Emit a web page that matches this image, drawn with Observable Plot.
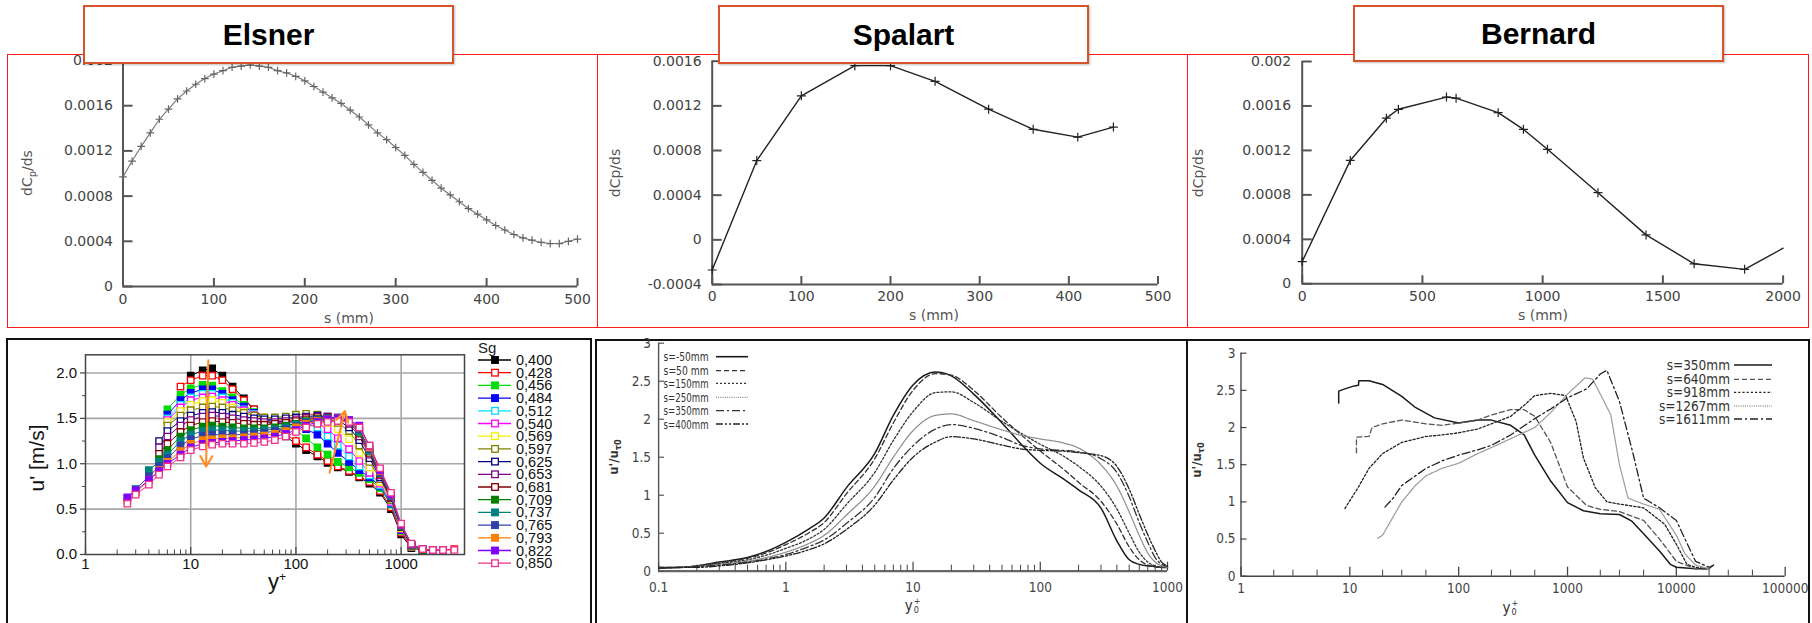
<!DOCTYPE html>
<html><head><meta charset="utf-8">
<script src="https://cdn.jsdelivr.net/npm/d3@7"></script>
<script src="https://cdn.jsdelivr.net/npm/@observablehq/plot@0.6"></script>
<style>
html,body{margin:0;padding:0;background:#fff;}
#root{position:relative;width:1812px;height:623px;overflow:hidden;background:#fff;font-family:"Liberation Sans",Arial,sans-serif;}
.box{position:absolute;box-sizing:border-box;}
.title{position:absolute;box-sizing:border-box;background:#fff;border:2.5px solid #d6532c;display:flex;align-items:center;justify-content:center;font-weight:bold;font-size:30px;color:#000;z-index:10;box-shadow:1px 1px 2px rgba(0,0,0,0.25);}
.lbl{position:absolute;white-space:nowrap;transform:translate(-50%,-50%);line-height:1;}
.rot{transform:translate(-50%,-50%) rotate(-90deg);}
.panel{position:absolute;}
.ss{display:inline-flex;flex-direction:column;font-size:0.6em;line-height:0.95;vertical-align:middle;margin-left:1px;}
</style></head>
<body><div id="root"></div>
<script>
// ================= DATA =================
// Top: dCp/ds vs s
const elsnerS = [0,10,20,30,40,50,60,70,80,90,100,110,120,130,140,150,160,170,180,190,200,210,220,230,240,250,260,270,280,290,300,310,320,330,340,350,360,370,380,390,400,410,420,430,440,450,460,470,480,490,500];
const elsnerDCp = [0.00097,0.00111,0.00124,0.00136,0.00148,0.00157,0.00166,0.00173,0.00179,0.00184,0.00188,0.00191,0.00194,0.00195,0.00196,0.00195,0.00194,0.00191,0.00189,0.00186,0.00182,0.00177,0.00172,0.00167,0.00162,0.00156,0.00150,0.00143,0.00136,0.00130,0.00123,0.00116,0.00108,0.00101,0.00094,0.00087,0.00081,0.00075,0.00069,0.00064,0.00059,0.00054,0.00050,0.00046,0.00043,0.00041,0.00039,0.00038,0.00038,0.00040,0.00042];
const spalartS = [0,50,100,160,200,250,310,360,410,450];
const spalartDCp = [-0.00027,0.00071,0.00129,0.00156,0.00156,0.00142,0.00117,0.00099,0.00092,0.00101];
const bernardS = [0,200,350,400,600,640,815,920,1020,1230,1430,1630,1840,2000];
const bernardDCp = [0.0002,0.00111,0.00149,0.00157,0.00168,0.00167,0.00154,0.00139,0.00121,0.00082,0.00044,0.00018,0.00013,0.00032];

const elsnerXTicks = [0,100,200,300,400,500];
const elsnerYTicks = [0,0.0004,0.0008,0.0012,0.0016,0.002];
const spalartXTicks = [0,100,200,300,400,500];
const spalartYTicks = [-0.0004,0,0.0004,0.0008,0.0012,0.0016];
const bernardXTicks = [0,500,1000,1500,2000];
const bernardYTicks = [0,0.0004,0.0008,0.0012,0.0016,0.002];

// Bottom-left: u' vs y+ for Sg
const sgYPlus = [2.5,3,4,5,6,8,10,13,16,20,25,32,40,50,63,80,100,125,160,200,250,320,400,500,630,800,1000,1250,1600,2000,2500,3200];
const sgLabels = ["0,400","0,428","0,456","0,484","0,512","0,540","0,569","0,597","0,625","0,653","0,681","0,709","0,737","0,765","0,793","0,822","0,850"];
const sgColors = ["#000000","#ff0000","#00dd00","#0000ff","#00dcff","#ff00ff","#f2f200","#808000","#000080","#800080","#800000","#008000","#008080","#3040a8","#ff8000","#8000ff","#f0308a"];
const sgFilled = [true,false,true,true,false,false,false,false,false,false,false,true,true,true,true,true,false];
const sg0400 = [null,null,null,null,null,null,1.97,2.03,2.05,1.97,1.85,1.72,1.6,1.5,1.4,1.3,1.22,1.15,1.08,1.01,0.96,0.91,0.85,0.78,0.68,0.5,0.22,0.07,0.05,0.05,0.05,null];
const sg0428 = [null,null,null,null,null,1.85,1.92,1.97,1.97,1.92,1.82,1.7,1.6,1.5,1.42,1.33,1.25,1.18,1.1,1.03,0.97,0.92,0.86,0.8,0.7,0.52,0.24,0.08,0.05,0.05,0.05,0.06];
const sg0456 = [null,null,null,null,1.6,1.76,1.83,1.87,1.86,1.8,1.73,1.65,1.57,1.5,1.45,1.41,1.37,1.28,1.18,1.1,1.02,0.96,0.9,0.83,0.73,0.55,0.26,0.09,0.05,0.05,0.05,null];
const sg0484 = [null,null,null,null,1.54,1.7,1.78,1.82,1.82,1.77,1.7,1.63,1.56,1.5,1.46,1.44,1.43,1.38,1.32,1.22,1.12,1.02,0.93,0.85,0.75,0.56,0.27,0.09,0.05,0.05,0.05,null];
const sg0512 = [null,null,null,null,1.5,1.65,1.73,1.77,1.77,1.73,1.67,1.6,1.55,1.5,1.47,1.46,1.46,1.44,1.4,1.3,1.2,1.08,0.97,0.87,0.76,0.57,0.28,0.09,0.05,0.05,0.05,null];
const sg0540 = [null,null,null,null,1.48,1.62,1.7,1.73,1.74,1.7,1.65,1.59,1.54,1.5,1.48,1.47,1.47,1.47,1.45,1.38,1.28,1.16,1.03,0.9,0.78,0.58,0.28,0.09,0.05,0.05,0.05,null];
const sg0569 = [null,null,null,null,1.46,1.58,1.65,1.69,1.7,1.67,1.62,1.57,1.53,1.5,1.49,1.48,1.48,1.49,1.48,1.45,1.38,1.27,1.12,0.96,0.8,0.6,0.29,0.09,0.05,0.05,0.05,null];
const sg0597 = [null,null,null,null,1.42,1.53,1.59,1.62,1.63,1.62,1.59,1.56,1.53,1.51,1.51,1.52,1.54,1.55,1.54,1.5,1.45,1.36,1.2,1.02,0.83,0.6,0.3,0.1,0.05,0.05,0.05,null];
const sg0625 = [null,null,null,1.25,1.36,1.47,1.53,1.56,1.57,1.56,1.54,1.52,1.5,1.49,1.49,1.5,1.51,1.52,1.53,1.52,1.48,1.4,1.26,1.06,0.85,0.62,0.3,0.1,0.05,0.05,0.05,null];
const sg0653 = [null,null,null,1.18,1.3,1.42,1.48,1.52,1.53,1.52,1.5,1.48,1.47,1.46,1.46,1.47,1.49,1.51,1.52,1.52,1.5,1.44,1.3,1.1,0.87,0.62,0.3,0.1,0.05,0.05,0.05,null];
const sg0681 = [null,null,null,1.11,1.22,1.35,1.42,1.46,1.47,1.46,1.45,1.44,1.43,1.43,1.44,1.45,1.47,1.49,1.5,1.51,1.5,1.46,1.33,1.12,0.88,0.63,0.31,0.1,0.05,0.05,0.05,null];
const sg0709 = [null,null,null,1.05,1.15,1.3,1.37,1.41,1.42,1.41,1.4,1.39,1.39,1.39,1.4,1.42,1.44,1.47,1.49,1.5,1.5,1.47,1.35,1.14,0.9,0.64,0.31,0.1,0.05,0.05,0.05,null];
const sg0737 = [null,null,0.93,1.02,1.1,1.25,1.32,1.36,1.37,1.37,1.36,1.36,1.36,1.37,1.38,1.4,1.43,1.46,1.48,1.5,1.5,1.47,1.36,1.15,0.9,0.64,0.32,0.11,0.06,0.05,0.05,null];
const sg0765 = [0.62,0.72,0.86,0.97,1.06,1.2,1.27,1.31,1.32,1.32,1.32,1.32,1.33,1.34,1.36,1.38,1.41,1.45,1.48,1.5,1.51,1.48,1.38,1.16,0.9,0.65,0.32,0.11,0.06,0.05,0.05,null];
const sg0793 = [0.59,0.68,0.82,0.93,1.02,1.14,1.22,1.26,1.27,1.28,1.28,1.29,1.3,1.31,1.33,1.36,1.4,1.44,1.47,1.49,1.5,1.48,1.4,1.18,0.92,0.66,0.33,0.11,0.06,0.05,0.05,null];
const sg0822 = [0.63,0.7,0.82,0.92,1.0,1.1,1.18,1.22,1.23,1.24,1.25,1.26,1.27,1.28,1.3,1.33,1.37,1.42,1.46,1.49,1.5,1.48,1.42,1.2,0.93,0.66,0.33,0.11,0.06,0.05,0.05,null];
const sg0850 = [0.56,0.66,0.77,0.88,0.97,1.07,1.15,1.19,1.21,1.22,1.22,1.22,1.23,1.24,1.26,1.3,1.35,1.4,1.44,1.46,1.47,1.46,1.4,1.2,0.95,0.68,0.34,0.12,0.06,0.05,0.05,0.05];
const sgSeries = [sg0400,sg0428,sg0456,sg0484,sg0512,sg0540,sg0569,sg0597,sg0625,sg0653,sg0681,sg0709,sg0737,sg0765,sg0793,sg0822,sg0850];
const sgArrows = [{x1:14.7,y1:2.14,x2:14.0,y2:0.97},{x1:209,y1:0.9,x2:292,y2:1.58}];
const sgXTicks = [1,10,100,1000];
const sgYTicks = [0,0.5,1,1.5,2];
const sgYTickLabels = ["0.0","0.5","1.0","1.5","2.0"];

// Bottom-middle: Spalart u'/u_tau0 vs y0+
const spUyPlus = [0.1,0.15,0.2,0.3,0.5,0.7,1,1.5,2,3,5,7,10,15,20,30,50,70,100,150,200,300,400,500,600,700,800,900,1000];
const spULabels = ["s=-50mm","s=50 mm","s=150mm","s=250mm","s=350mm","s=400mm"];
const spU_m50 = [0.05,0.05,0.07,0.12,0.18,0.26,0.38,0.55,0.7,1.1,1.55,2.05,2.45,2.62,2.57,2.33,1.95,1.68,1.42,1.22,1.07,0.83,0.4,0.15,0.09,0.07,0.06,0.05,0.05];
const spU_50  = [0.05,0.05,0.07,0.11,0.17,0.24,0.35,0.5,0.64,1.02,1.48,1.95,2.38,2.6,2.58,2.38,2.02,1.8,1.58,1.35,1.17,0.92,0.62,0.32,0.15,0.08,0.06,0.05,0.05];
const spU_150 = [0.04,0.05,0.06,0.1,0.15,0.21,0.3,0.42,0.55,0.88,1.3,1.72,2.1,2.35,2.36,2.22,1.97,1.82,1.67,1.52,1.38,1.12,0.82,0.5,0.25,0.12,0.07,0.05,0.05];
const spU_250 = [0.04,0.05,0.06,0.09,0.13,0.18,0.25,0.36,0.47,0.74,1.12,1.5,1.85,2.05,2.07,1.98,1.86,1.79,1.74,1.69,1.62,1.4,1.12,0.78,0.47,0.24,0.12,0.07,0.05];
const spU_350 = [0.04,0.05,0.06,0.08,0.12,0.16,0.22,0.32,0.41,0.63,0.97,1.35,1.65,1.87,1.93,1.88,1.76,1.66,1.61,1.59,1.57,1.48,1.3,0.98,0.64,0.38,0.18,0.09,0.06];
const spU_400 = [0.04,0.05,0.05,0.07,0.11,0.15,0.2,0.28,0.36,0.55,0.87,1.2,1.5,1.7,1.77,1.74,1.66,1.61,1.59,1.58,1.56,1.52,1.38,1.08,0.75,0.48,0.27,0.12,0.07];
const spUSeries = [spU_m50,spU_50,spU_150,spU_250,spU_350,spU_400];
const spUXTicks = [0.1,1,10,100,1000];
const spUYTicks = [0,0.5,1,1.5,2,2.5,3];

// Bottom-right: Bernard u'/u_tau0 vs y0+
const bnULabels = ["s=350mm","s=640mm","s=918mm","s=1267mm","s=1611mm"];
const bnU350x = [7.9,7.9,9,11,12,12.1,15,20,30,40,60,100,150,200,300,400,500,700,1000,1400,2000,3000,3900,5000,7000,8800,10000,15000,20000];
const bnU350  = [2.33,2.49,2.52,2.56,2.57,2.63,2.63,2.58,2.42,2.27,2.13,2.06,2.1,2.1,2.03,1.9,1.63,1.28,0.99,0.88,0.84,0.83,0.74,0.57,0.34,0.16,0.12,0.1,0.1];
const bnU640x = [11.5,11.5,15,16,20,30,50,70,100,150,200,300,400,500,700,1000,1500,2000,3000,5000,7000,10000,15000,20000,22000];
const bnU640  = [1.66,1.87,1.88,2.0,2.05,2.1,2.05,2.03,2.06,2.1,2.17,2.24,2.24,2.15,1.8,1.2,0.95,0.9,0.87,0.75,0.5,0.2,0.1,0.1,0.15];
const bnU918x = [9,12,15,20,30,50,70,100,150,200,300,400,500,700,960,1200,1400,1800,2300,3000,5000,7800,10000,12500,15000,20000];
const bnU918  = [0.91,1.2,1.45,1.65,1.8,1.88,1.9,1.93,1.98,2.05,2.15,2.3,2.43,2.46,2.43,2.08,1.59,1.19,1.0,0.97,0.92,0.7,0.43,0.16,0.12,0.1];
const bnU1267x = [18,20,25,30,40,50,70,100,150,200,300,500,700,1000,1450,1700,2000,2500,3000,3600,5000,7000,10000,12000,15000,20000];
const bnU1267  = [0.51,0.55,0.8,1.0,1.22,1.35,1.45,1.52,1.65,1.73,1.85,2.0,2.2,2.45,2.67,2.65,2.45,2.17,1.5,1.05,0.97,0.9,0.55,0.3,0.15,0.1];
const bnU1611x = [21,25,30,40,50,70,100,150,200,300,500,700,1000,1500,2000,2300,3000,4000,5000,7000,10000,12000,15000,20000,22000];
const bnU1611  = [0.93,1.05,1.22,1.35,1.45,1.55,1.63,1.7,1.76,1.9,2.12,2.25,2.4,2.52,2.72,2.77,2.35,1.65,1.05,0.92,0.75,0.5,0.2,0.12,0.15];
const bnUSeriesX = [bnU350x,bnU640x,bnU918x,bnU1267x,bnU1611x];
const bnUSeries = [bnU350,bnU640,bnU918,bnU1267,bnU1611];
const bnUXTicks = [1,10,100,1000,10000,100000];
const bnUYTicks = [0,0.5,1,1.5,2,2.5,3];

// ================= STYLES (not data) =================
const spUDash = [null,"5,3","2,2","1,1.2","8,3,2,3","7,2,2,2,2,2"];
const spUStroke = ["#1a1a1a","#333","#333","#8a8a8a","#333","#222"];
const bnUDash = [null,"5,3","2.2,2","1,1.2","8,3,2,3"];
const bnUStroke = ["#1a1a1a","#555","#222","#999","#222"];

// ================= HELPERS =================
const root = document.getElementById("root");
function box(cls, l, t, w, h, css) {
  const d = document.createElement("div");
  d.className = cls;
  Object.assign(d.style, {left: l + "px", top: t + "px", width: w + "px", height: h + "px"}, css || {});
  root.appendChild(d); return d;
}
function label(html, cx, cy, css, rot) {
  const d = document.createElement("div");
  d.className = "lbl" + (rot ? " rot" : "");
  d.innerHTML = html;
  Object.assign(d.style, {left: cx + "px", top: cy + "px"}, css || {});
  root.appendChild(d); return d;
}
function put(svg, l, t) {
  const d = document.createElement("div");
  d.className = "panel";
  d.style.left = l + "px"; d.style.top = t + "px";
  d.appendChild(svg); root.appendChild(d); return d;
}
function minorLog(lo, hi, mult) {
  const out = [];
  for (let e = lo; e < hi; e++) for (const m of mult) out.push(m * Math.pow(10, e));
  return out;
}
const numFmt = d => d === 0 ? "0" : String(d);
const TOPFONT = "DejaVu Sans, sans-serif";
const NARROW = "'Liberation Sans Narrow','DejaVu Sans Condensed',sans-serif";

// ================= TOP PANELS =================
function topPanel(o) {
  const pw = o.width - o.ml - o.mr, ph = o.height - o.mt - o.mb;
  const pxX = pw / (o.xDomain[1] - o.xDomain[0]);
  const pxY = ph / (o.yDomain[1] - o.yDomain[0]);
  const data = o.xs.map((x, i) => ({x, y: o.ys[i]}));
  const md = data.filter((d, i) => !(o.noMark || []).includes(i));
  const axisCol = "#555";
  return Plot.plot({
    width: o.width, height: o.height,
    marginLeft: o.ml, marginRight: o.mr, marginTop: o.mt, marginBottom: o.mb,
    x: {domain: o.xDomain, axis: null},
    y: {domain: o.yDomain, axis: null},
    style: {background: "transparent", overflow: "visible", fontFamily: TOPFONT},
    marks: [
      Plot.ruleX([o.xDomain[0]], {y1: o.yDomain[0], y2: o.yDomain[1], stroke: axisCol, strokeWidth: 2}),
      Plot.ruleY([o.yDomain[0]], {x1: o.xDomain[0], x2: o.xDomain[1], stroke: axisCol, strokeWidth: 2}),
      Plot.ruleY(o.yTicks, {y: d => d, x1: o.xDomain[0], x2: o.xDomain[0] + 10 / pxX, stroke: axisCol, strokeWidth: 2}),
      Plot.ruleX(o.xTicks, {x: d => d, y1: o.yDomain[0], y2: o.yDomain[0] + 8 / pxY, stroke: axisCol, strokeWidth: 2}),
      Plot.text(o.yTicks, {x: o.xDomain[0], y: d => d, text: numFmt, textAnchor: "end", dx: o.ydx, fontSize: 14, fill: "#444", fontFamily: TOPFONT}),
      Plot.text(o.xTicks, {x: d => d, y: o.yDomain[0], text: d => String(d), dy: o.xdy, fontSize: 14, fill: "#444", fontFamily: TOPFONT}),
      Plot.line(data, {x: "x", y: "y", stroke: o.lineStroke, strokeWidth: o.lineWidth}),
      Plot.dot(md, {x: "x", y: "y", symbol: "plus", r: o.markR, stroke: o.markStroke, strokeWidth: 1.2, fill: "none"})
    ]
  });
}

// red frames
box("box", 7, 54, 591, 274, {border: "1.5px solid #ff1a1a"});
box("box", 597, 54, 591, 274, {border: "1.5px solid #ff1a1a"});
box("box", 1187, 54, 622, 274, {border: "1.5px solid #ff1a1a"});

put(topPanel({width: 590, height: 273, ml: 114.5, mr: 21, mt: 5, mb: 42,
  xDomain: [0, 500], yDomain: [0, 0.002], xTicks: elsnerXTicks, yTicks: elsnerYTicks,
  xs: elsnerS, ys: elsnerDCp, ydx: -10, xdy: 13, lineStroke: "#777", lineWidth: 1.1, markStroke: "#666", markR: 2.6}), 8, 55);
put(topPanel({width: 589, height: 273, ml: 113.7, mr: 29.5, mt: 5.7, mb: 44,
  xDomain: [0, 500], yDomain: [-0.0004, 0.0016], xTicks: spalartXTicks, yTicks: spalartYTicks,
  xs: spalartS, ys: spalartDCp, ydx: -10.5, xdy: 12, lineStroke: "#222", lineWidth: 1.4, markStroke: "#222", markR: 3}), 598, 55);
put(topPanel({width: 620, height: 273, ml: 113.7, mr: 25.4, mt: 6, mb: 44.7,
  xDomain: [0, 2000], yDomain: [0, 0.002], xTicks: bernardXTicks, yTicks: bernardYTicks,
  xs: bernardS, ys: bernardDCp, ydx: -11, xdy: 12.5, lineStroke: "#222", lineWidth: 1.4, markStroke: "#222", markR: 3, noMark: [13]}), 1188, 55);

const topAxisCss = {fontFamily: TOPFONT, fontSize: "14px", color: "#555"};
label("dC<sub style='font-size:0.7em'>p</sub>/ds", 29, 173, topAxisCss, true);
label("dCp/ds", 615, 173, topAxisCss, true);
label("dCp/ds", 1198, 173, topAxisCss, true);
label("s (mm)", 349, 318, topAxisCss);
label("s (mm)", 934, 315, topAxisCss);
label("s (mm)", 1543, 315, topAxisCss);

// titles
const t1 = box("title", 83, 5, 371, 59); t1.textContent = "Elsner";
const t2 = box("title", 718, 5, 371, 59); t2.textContent = "Spalart";
const t3 = box("title", 1353, 5, 371, 57); t3.textContent = "Bernard";

// ================= BOTTOM FRAMES =================
box("box", 6, 338, 586, 300, {border: "2px solid #111", borderBottom: "none"});
box("box", 595, 339, 593, 300, {border: "2px solid #111", borderBottom: "none"});
box("box", 1186, 339, 624, 300, {border: "2px solid #111", borderBottom: "none"});

// ================= BOTTOM-LEFT (Sg) =================
{
  const W = 583, Hh = 285, ml = 77, mr = 127, mt = 16.3, mb = 69;
  const pxDec = (W - ml - mr) / Math.log10(4000);
  const pxU = (Hh - mt - mb) / 2.2;
  const grid = "#a8a8a8";
  const marks = [
    Plot.ruleX([10, 100, 1000], {stroke: grid, strokeWidth: 1.6}),
    Plot.ruleY([0.5, 1, 1.5, 2], {stroke: grid, strokeWidth: 1.6}),
    Plot.frame({stroke: "#444", strokeWidth: 1.5}),
    Plot.ruleX(minorLog(0, 4, [2,3,4,5,6,7,8,9]).filter(v => v < 4000), {y1: 0, y2: 4.5 / pxU, stroke: "#444", strokeWidth: 1}),
    Plot.ruleX(sgXTicks, {y1: 0, y2: 7 / pxU, stroke: "#444", strokeWidth: 1.2}),
    Plot.ruleY([0.25, 0.75, 1.25, 1.75], {x1: 1, x2: Math.pow(10, -3 / pxDec), stroke: "#444", strokeWidth: 1}),
    Plot.ruleY(sgYTicks, {x1: 1, x2: Math.pow(10, -5 / pxDec), stroke: "#444", strokeWidth: 1.2}),
    Plot.text(sgYTicks, {x: 1, y: d => d, text: (d, i) => sgYTickLabels[i], textAnchor: "end", dx: -8.5, fontSize: 15, fill: "#111", fontFamily: "Liberation Sans, Arial, sans-serif"}),
    Plot.text(sgXTicks, {x: d => d, y: 0, text: d => String(d), dy: 9.5, fontSize: 15, fill: "#111", fontFamily: "Liberation Sans, Arial, sans-serif"})
  ];
  sgSeries.forEach((arr, k) => {
    const rows = [];
    arr.forEach((u, i) => { if (u != null) rows.push({yp: sgYPlus[i], u}); });
    marks.push(Plot.line(rows, {x: "yp", y: "u", stroke: sgColors[k], strokeWidth: 1}));
    marks.push(Plot.dot(rows, {x: "yp", y: "u", symbol: "square", r: 3.6, stroke: sgColors[k], fill: sgFilled[k] ? sgColors[k] : "white", strokeWidth: 1.3}));
  });
  marks.push(Plot.arrow(sgArrows, {x1: "x1", y1: "y1", x2: "x2", y2: "y2", stroke: "#ff8a1e", strokeWidth: 2, headLength: 9}));
  put(Plot.plot({
    width: W, height: Hh, marginLeft: ml, marginRight: mr, marginTop: mt, marginBottom: mb,
    x: {type: "log", domain: [1, 4000], axis: null},
    y: {domain: [0, 2.2], axis: null},
    style: {background: "transparent", overflow: "visible"},
    marks
  }), 8, 338);

  // legend
  const lg = d3.create("svg").attr("width", 122).attr("height", 240).style("overflow", "visible")
    .style("font-family", "Liberation Sans, Arial, sans-serif");
  lg.append("text").attr("x", 8).attr("y", 9).attr("dominant-baseline", "central").attr("font-size", 15).attr("fill", "#222").text("Sg");
  sgLabels.forEach((lab, i) => {
    const cy = 22 + i * 12.7;
    lg.append("line").attr("x1", 8).attr("x2", 41).attr("y1", cy).attr("y2", cy).attr("stroke", sgColors[i]).attr("stroke-width", 1.3);
    lg.append("rect").attr("x", 25 - 3.3).attr("y", cy - 3.3).attr("width", 6.6).attr("height", 6.6)
      .attr("fill", sgFilled[i] ? sgColors[i] : "white").attr("stroke", sgColors[i]).attr("stroke-width", 1.3);
    lg.append("text").attr("x", 46).attr("y", cy).attr("dominant-baseline", "central").attr("font-size", 14.5).attr("fill", "#111").text(lab);
  });
  put(lg.node(), 470, 338);

  label("u' [m/s]", 36, 458, {fontSize: "21px", color: "#111"}, true);
  label("y<sup style='font-size:0.55em'>+</sup>", 277, 582, {fontSize: "22px", color: "#111"});
}

// ================= BOTTOM-MIDDLE (Spalart u') =================
{
  const W = 591, Hh = 283, ml = 62.1, mr = 20, mt = 2.7, mb = 52.3;
  const pxDec = (W - ml - mr) / 4;
  const pxU = (Hh - mt - mb) / 3;
  const ax = "#555";
  const marks = [
    Plot.ruleX([0.1], {y1: 0, y2: 3, stroke: ax, strokeWidth: 1.4}),
    Plot.ruleY([0], {x1: 0.1, x2: 1000, stroke: "#666", strokeWidth: 2.2}),
    Plot.ruleX(minorLog(-1, 3, [2,3,4,5,6,7,8,9]), {y1: 0, y2: 6 / pxU, stroke: "#444", strokeWidth: 1}),
    Plot.ruleX(spUXTicks, {y1: 0, y2: 9 / pxU, stroke: "#444", strokeWidth: 1.2}),
    Plot.ruleY(spUYTicks, {x1: 0.1, x2: 0.1 * Math.pow(10, 6 / pxDec), stroke: ax, strokeWidth: 1.2}),
    Plot.text(spUYTicks, {x: 0.1, y: d => d, text: numFmt, textAnchor: "end", dx: -7.5, fontSize: 13.5, fill: "#444", fontFamily: NARROW}),
    Plot.text(spUXTicks, {x: d => d, y: 0, text: d => String(d), dy: 16, fontSize: 13.5, fill: "#444", fontFamily: NARROW})
  ];
  spUSeries.forEach((arr, k) => {
    const rows = arr.map((u, i) => ({yp: spUyPlus[i], u}));
    marks.push(Plot.line(rows, {x: "yp", y: "u", stroke: spUStroke[k], strokeWidth: k === 0 ? 1.5 : 1.3, strokeDasharray: spUDash[k], curve: "monotone-x"}));
  });
  put(Plot.plot({
    width: W, height: Hh, marginLeft: ml, marginRight: mr, marginTop: mt, marginBottom: mb,
    x: {type: "log", domain: [0.1, 1000], axis: null},
    y: {domain: [0, 3], axis: null},
    style: {background: "transparent", overflow: "visible"},
    marks
  }), 596, 340);

  const lg = d3.create("svg").attr("width", 170).attr("height", 100).style("overflow", "visible").style("font-family", NARROW);
  const rowsY = [16.7, 30.7, 43.3, 57.3, 70.7, 84];
  spULabels.forEach((lab, i) => {
    lg.append("text").attr("x", 112.6).attr("y", rowsY[i]).attr("text-anchor", "end").attr("dominant-baseline", "central")
      .attr("font-size", 13).attr("textLength", 45).attr("lengthAdjust", "spacingAndGlyphs").attr("fill", "#333").text(lab);
    const ln = lg.append("line").attr("x1", 120).attr("x2", 152).attr("y1", rowsY[i]).attr("y2", rowsY[i])
      .attr("stroke", spUStroke[i]).attr("stroke-width", i === 0 ? 1.6 : 1.3);
    if (spUDash[i]) ln.attr("stroke-dasharray", spUDash[i]);
  });
  put(lg.node(), 596, 340);

  label("u'/u<sub style='font-size:0.7em'>τ0</sub>", 615, 457, {fontFamily: NARROW, fontSize: "13px", fontWeight: "bold", color: "#333"}, true);
  label("y<span class='ss'><span>+</span><span>0</span></span>", 912.6, 606, {fontFamily: NARROW, fontSize: "15px", color: "#333"});
}

// ================= BOTTOM-RIGHT (Bernard u') =================
{
  const W = 623, Hh = 283, ml = 53.5, mr = 25.3, mt = 12.7, mb = 47.3;
  const pxDec = (W - ml - mr) / 5;
  const pxU = (Hh - mt - mb) / 3;
  const ax = "#444";
  const marks = [
    Plot.ruleX([1], {y1: 0, y2: 3, stroke: ax, strokeWidth: 1.4}),
    Plot.ruleY([0], {x1: 1, x2: 100000, stroke: ax, strokeWidth: 1.6}),
    Plot.ruleX(minorLog(0, 5, [2,3,5]), {y1: 0, y2: 6 / pxU, stroke: ax, strokeWidth: 1}),
    Plot.ruleX(bnUXTicks, {y1: 0, y2: 9 / pxU, stroke: ax, strokeWidth: 1.3}),
    Plot.ruleY(bnUYTicks, {x1: 1, x2: Math.pow(10, 6 / pxDec), stroke: ax, strokeWidth: 1.2}),
    Plot.text(bnUYTicks, {x: 1, y: d => d, text: numFmt, textAnchor: "end", dx: -5.5, fontSize: 13.5, fill: "#444", fontFamily: NARROW}),
    Plot.text(bnUXTicks, {x: d => d, y: 0, text: d => String(d), dy: 12.6, fontSize: 13.5, fill: "#444", fontFamily: NARROW})
  ];
  bnUSeries.forEach((arr, k) => {
    const rows = arr.map((u, i) => ({yp: bnUSeriesX[k][i], u}));
    marks.push(Plot.line(rows, {x: "yp", y: "u", stroke: bnUStroke[k], strokeWidth: k === 0 ? 1.5 : 1.3, strokeDasharray: bnUDash[k]}));
  });
  put(Plot.plot({
    width: W, height: Hh, marginLeft: ml, marginRight: mr, marginTop: mt, marginBottom: mb,
    x: {type: "log", domain: [1, 100000], axis: null},
    y: {domain: [0, 3], axis: null},
    style: {background: "transparent", overflow: "visible"},
    marks
  }), 1187, 340);

  const lg = d3.create("svg").attr("width", 140).attr("height", 80).style("overflow", "visible").style("font-family", NARROW);
  const rowsY = [15, 29.3, 42.3, 56, 69];
  bnULabels.forEach((lab, i) => {
    lg.append("text").attr("x", 90).attr("y", rowsY[i]).attr("text-anchor", "end").attr("dominant-baseline", "central")
      .attr("font-size", 13.5).attr("fill", "#333").text(lab);
    const ln = lg.append("line").attr("x1", 94).attr("x2", 132).attr("y1", rowsY[i]).attr("y2", rowsY[i])
      .attr("stroke", bnUStroke[i]).attr("stroke-width", i === 0 ? 1.6 : 1.3);
    if (bnUDash[i]) ln.attr("stroke-dasharray", bnUDash[i]);
  });
  put(lg.node(), 1640, 350);

  label("u'/u<sub style='font-size:0.7em'>τ0</sub>", 1198, 460, {fontFamily: NARROW, fontSize: "13px", fontWeight: "bold", color: "#333"}, true);
  label("y<span class='ss'><span>+</span><span>0</span></span>", 1510.5, 608, {fontFamily: NARROW, fontSize: "15px", color: "#333"});
}
</script></body></html>
